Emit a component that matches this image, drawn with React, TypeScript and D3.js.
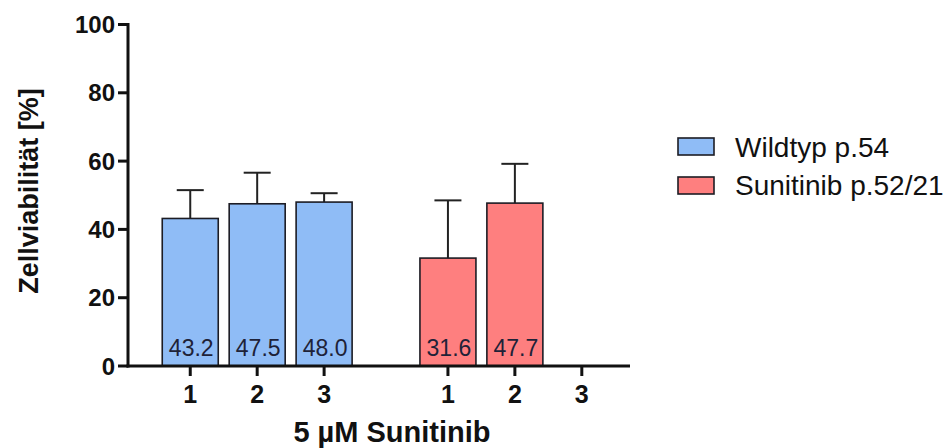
import React, { useEffect, useRef } from "react";
import * as d3 from "d3";

// data
const groups = ["Wildtyp p.54", "Sunitinib p.52/21"];
const replicates = ["1", "2", "3"];
const wildtypMeans = [43.2, 47.5, 48.0];
const wildtypSD = [8.3, 9.1, 2.6];
const sunitinibMeans = [31.6, 47.7, null];
const sunitinibSD = [16.9, 11.5, null];
const yTicks = [0, 20, 40, 60, 80, 100];
const groupColors = ["#8fbcf6", "#fe7f7f"];

const App = () => {
  const svgRef = useRef<SVGSVGElement>(null);

  useEffect(() => {
    document.body.style.margin = "0";
    const svg = d3.select(svgRef.current);
    svg.selectAll("*").remove();

    const width = 946;
    const height = 448;
    const font = "'Liberation Sans', Arial, sans-serif";

    const y = d3.scaleLinear().domain([0, 100]).range([366, 24.5]);
    // slot positions along the x axis; second group starts after a wider gap
    const x = d3.scaleLinear().domain([0, 7.5]).range([128, 630]);
    const groupStart = [0.93, 4.78];
    const barW = 56;

    svg.attr("width", width).attr("height", height);

    const series = [
      { means: wildtypMeans, sd: wildtypSD },
      { means: sunitinibMeans, sd: sunitinibSD },
    ];

    const bars = [];
    series.forEach((s, gi) => {
      replicates.forEach((r, ri) => {
        bars.push({ gi, ri, label: r, cx: x(groupStart[gi] + ri), mean: s.means[ri], sd: s.sd[ri] });
      });
    });

    const g = svg.append("g");

    // error bars (drawn first so bar outline sits on top)
    bars
      .filter((d) => d.mean != null)
      .forEach((d) => {
        g.append("line")
          .attr("x1", d.cx)
          .attr("x2", d.cx)
          .attr("y1", y(d.mean))
          .attr("y2", y(d.mean + d.sd))
          .attr("stroke", "#222")
          .attr("stroke-width", 2);
        g.append("line")
          .attr("x1", d.cx - 13.5)
          .attr("x2", d.cx + 13.5)
          .attr("y1", y(d.mean + d.sd))
          .attr("y2", y(d.mean + d.sd))
          .attr("stroke", "#222")
          .attr("stroke-width", 2);
      });

    g.selectAll("rect.bar")
      .data(bars.filter((d) => d.mean != null))
      .enter()
      .append("rect")
      .attr("class", "bar")
      .attr("x", (d) => d.cx - barW / 2)
      .attr("y", (d) => y(d.mean))
      .attr("width", barW)
      .attr("height", (d) => y(0) - y(d.mean))
      .attr("fill", (d) => groupColors[d.gi])
      .attr("stroke", "#1c1c24")
      .attr("stroke-width", 1.6);

    g.selectAll("text.val")
      .data(bars.filter((d) => d.mean != null))
      .enter()
      .append("text")
      .attr("class", "val")
      .attr("x", (d) => d.cx + 1)
      .attr("y", 356)
      .attr("text-anchor", "middle")
      .style("font-family", font)
      .style("font-size", "23px")
      .style("fill", "#1e2238")
      .text((d) => d.mean.toFixed(1));

    // y axis
    g.append("line")
      .attr("x1", 128)
      .attr("x2", 128)
      .attr("y1", y(100) - 1.5)
      .attr("y2", y(0) + 1.5)
      .attr("stroke", "#111")
      .attr("stroke-width", 3);
    yTicks.forEach((t) => {
      g.append("line")
        .attr("x1", 118)
        .attr("x2", 128)
        .attr("y1", y(t))
        .attr("y2", y(t))
        .attr("stroke", "#111")
        .attr("stroke-width", 3);
      g.append("text")
        .attr("x", 115)
        .attr("y", y(t) + 8.5)
        .attr("text-anchor", "end")
        .style("font-family", font)
        .style("font-weight", "bold")
        .style("font-size", "24px")
        .style("fill", "#111")
        .text(t);
    });

    // x axis
    g.append("line")
      .attr("x1", 126.5)
      .attr("x2", 630)
      .attr("y1", y(0))
      .attr("y2", y(0))
      .attr("stroke", "#111")
      .attr("stroke-width", 3);
    bars.forEach((d) => {
      g.append("line")
        .attr("x1", d.cx)
        .attr("x2", d.cx)
        .attr("y1", y(0))
        .attr("y2", y(0) + 10)
        .attr("stroke", "#111")
        .attr("stroke-width", 3);
      g.append("text")
        .attr("x", d.cx)
        .attr("y", 403)
        .attr("text-anchor", "middle")
        .style("font-family", font)
        .style("font-weight", "bold")
        .style("font-size", "25px")
        .style("fill", "#111")
        .text(d.label);
    });

    svg.append("text")
      .attr("x", 392)
      .attr("y", 442)
      .attr("text-anchor", "middle")
      .style("font-family", font)
      .style("font-weight", "bold")
      .style("font-size", "29px")
      .style("fill", "#111")
      .text("5 µM Sunitinib");

    svg.append("text")
      .attr("transform", "translate(38, 191) rotate(-90)")
      .attr("text-anchor", "middle")
      .style("font-family", font)
      .style("font-weight", "bold")
      .style("font-size", "27px")
      .style("fill", "#111")
      .text("Zellviabilität [%]");

    // legend
    const legend = svg.append("g").attr("transform", "translate(678, 138)");
    groups.forEach((name, i) => {
      legend.append("rect")
        .attr("x", 0)
        .attr("y", i * 39)
        .attr("width", 36)
        .attr("height", 17)
        .attr("fill", groupColors[i])
        .attr("stroke", "#1c1c24")
        .attr("stroke-width", 1.6);
      legend.append("text")
        .attr("x", 57)
        .attr("y", i * 38 + 19)
        .style("font-family", font)
        .style("font-size", "28px")
        .style("fill", "#111")
        .text(name);
    });
  }, []);

  return <svg ref={svgRef}></svg>;
};

export default App;
